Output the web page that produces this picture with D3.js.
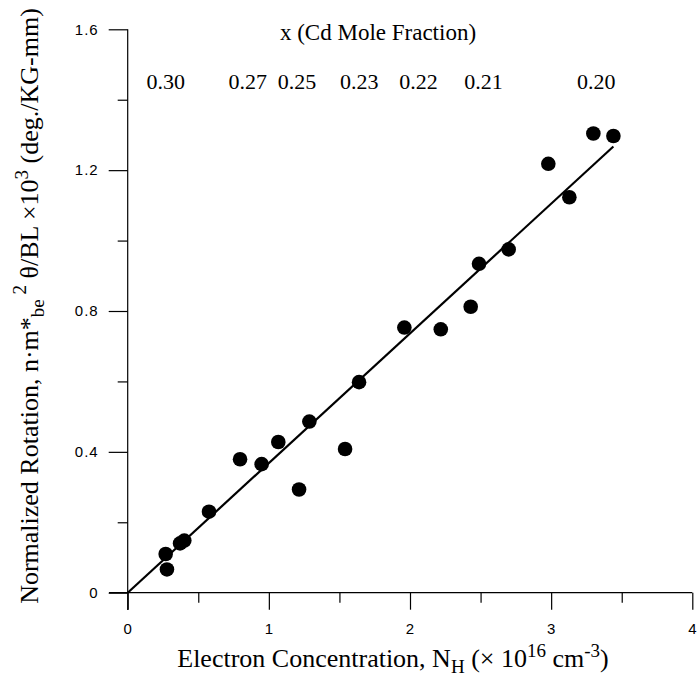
<!DOCTYPE html>
<html><head><meta charset="utf-8">
<script src="https://cdn.jsdelivr.net/npm/d3@7"></script>
<style>body{margin:0;background:#fff}svg{display:block}</style>
</head><body><svg id="c" width="697" height="677"></svg>
<script>
const nH = [0.269,0.278,0.371,0.401,0.576,0.796,0.949,1.067,1.214,1.287,1.540,1.639,1.960,2.218,2.430,2.489,2.699,2.980,3.129,3.299,3.441];
const rot = [0.110,0.066,0.140,0.148,0.230,0.379,0.365,0.428,0.293,0.486,0.408,0.598,0.753,0.748,0.812,0.934,0.975,1.218,1.123,1.304,1.297];
const fitX = [0, 3.441];
const fitY = [0, 1.267];
const xTicks = [0,1,2,3,4];
const xMinor = [0.5,1.5,2.5,3.5];
const yTicks = [0,0.4,0.8,1.2,1.6];
const yMinor = [0.2,0.6,1.0,1.4];
const cdLabels = ["0.30","0.27","0.25","0.23","0.22","0.21","0.20"];
const cdPos = [0.27,0.85,1.20,1.64,2.06,2.52,3.32];

const svg = d3.select("#c");
const x = d3.scaleLinear().domain([0,4]).range([127.7,692.3]);
const y = d3.scaleLinear().domain([0,1.6]).range([592.7,29.3]);
const sans = "'Liberation Sans', Arial, sans-serif";
const serif = "'Liberation Serif', 'Times New Roman', serif";

// x axis
const gx = svg.append("g").attr("transform",`translate(0,${y(0)})`);
gx.call(d3.axisBottom(x).tickValues(xTicks).tickFormat(d3.format("d")).tickSize(17).tickPadding(14));
gx.append("g").call(d3.axisBottom(x).tickValues(xMinor).tickFormat("").tickSize(10)).select(".domain").remove();
gx.select(".domain").attr("d",`M109,0H${x(4)}`);
// y axis
const gy = svg.append("g").attr("transform",`translate(${x(0)},0)`);
gy.call(d3.axisLeft(y).tickValues(yTicks).tickFormat(d=>d===0?"0":d3.format(".1f")(d)).tickSize(19).tickPadding(10));
gy.append("g").call(d3.axisLeft(y).tickValues(yMinor).tickFormat("").tickSize(10)).select(".domain").remove();
gy.select(".domain").attr("d",`M0,${y(1.6)}V610`);
gx.attr("font-size",null).attr("font-family",null);
gy.attr("font-size",null).attr("font-family",null);
svg.selectAll(".tick text")
  .style("font-family",sans).style("font-size","15px").style("letter-spacing","1px").attr("fill","#000");
svg.selectAll(".domain, .tick line").attr("stroke","#000").attr("stroke-width",1.2);

// fit line
svg.append("line").attr("x1",x(fitX[0])).attr("y1",y(fitY[0])).attr("x2",x(fitX[1])).attr("y2",y(fitY[1]))
  .attr("stroke","#000").attr("stroke-width",2.2);

// points
svg.append("g").selectAll("circle").data(nH).join("circle")
  .attr("cx",d=>x(d)).attr("cy",(d,i)=>y(rot[i])).attr("r",7.3).attr("fill","#000");

// top labels
svg.append("text").attr("x",378).attr("y",40).attr("text-anchor","middle")
  .attr("font-family",serif).attr("font-size",23).text("x (Cd Mole Fraction)");
svg.append("g").selectAll("text").data(cdLabels).join("text")
  .attr("x",(d,i)=>x(cdPos[i])).attr("y",89).attr("text-anchor","middle")
  .attr("font-family",serif).attr("font-size",22).text(d=>d);

// x title
const xt = svg.append("text").attr("x",393).attr("y",667).attr("text-anchor","middle")
  .attr("font-family",serif).attr("font-size",26);
xt.append("tspan").text("Electron Concentration, N");
xt.append("tspan").attr("font-size",19).attr("dy",6).text("H");
xt.append("tspan").attr("dy",-6).text(" (\u00d7 10");
xt.append("tspan").attr("font-size",19).attr("dy",-10).text("16");
xt.append("tspan").attr("dy",10).text(" cm");
xt.append("tspan").attr("font-size",19).attr("dy",-10).text("-3");
xt.append("tspan").attr("dy",10).text(")");

// y title
const yt = svg.append("text").attr("transform","translate(38,306) rotate(-90)").attr("text-anchor","middle")
  .attr("font-family",serif).attr("font-size",26);
yt.append("tspan").text("Normalized Rotation, n\u00b7m*");
yt.append("tspan").attr("font-size",19).attr("dy",6).text("be");
yt.append("tspan").attr("font-size",19).attr("dy",-18).text(" 2");
yt.append("tspan").attr("dy",12).text(" \u03b8/BL \u00d710");
yt.append("tspan").attr("font-size",19).attr("dy",-10).text("3");
yt.append("tspan").attr("dy",10).text(" (deg./KG-mm)");
</script></body></html>
